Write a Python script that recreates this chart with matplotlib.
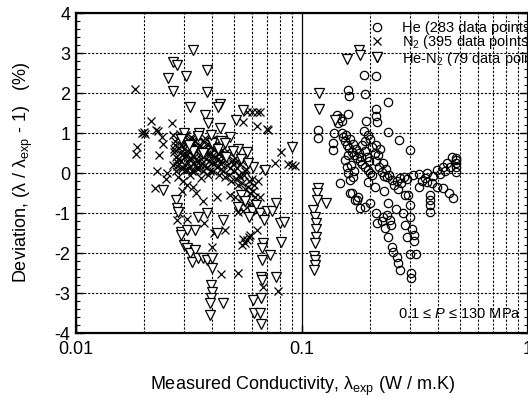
import matplotlib
matplotlib.use("Agg")
import matplotlib.pyplot as plt
from matplotlib.ticker import MultipleLocator, LogLocator, FixedFormatter, FixedLocator

plt.rcParams["font.family"] = ["Liberation Sans", "DejaVu Sans"]
plt.rcParams["mathtext.fontset"] = "custom"
plt.rcParams["mathtext.rm"] = "Liberation Sans"
plt.rcParams["mathtext.it"] = "Liberation Sans:italic"

# He (circles)
he_x = [0.188, 0.212, 0.160, 0.162, 0.190, 0.240, 0.213, 0.213, 0.214, 0.143, 0.147, 0.151,
        0.160, 0.145, 0.192, 0.118, 0.118, 0.138, 0.240, 0.270, 0.300, 0.213, 0.137, 0.137,
        0.150, 0.152, 0.155, 0.158, 0.162, 0.166, 0.170, 0.175, 0.180, 0.185, 0.190, 0.195,
        0.200, 0.205,
        0.188, 0.195, 0.190, 0.185, 0.190, 0.193, 0.197, 0.213, 0.220, 0.225, 0.230,
        0.155, 0.158, 0.160, 0.163, 0.147, 0.166, 0.177, 0.172, 0.160, 0.165, 0.170, 0.168,
        0.195, 0.237, 0.271, 0.310, 0.357, 0.395, 0.440, 0.460, 0.480, 0.480, 0.480, 0.480,
        0.480, 0.420, 0.330, 0.250, 0.290,
        0.357, 0.375, 0.395, 0.420, 0.445, 0.465,
        0.368, 0.368, 0.370, 0.370,
        0.200, 0.213, 0.228, 0.245, 0.233, 0.240, 0.250, 0.252, 0.262, 0.265, 0.271, 0.303,
        0.303, 0.286, 0.306, 0.312, 0.290, 0.312, 0.320, 0.300, 0.300, 0.163, 0.175, 0.180,
        0.190, 0.240, 0.260, 0.280, 0.265, 0.285, 0.230, 0.210, 0.300, 0.330,
        0.157, 0.163, 0.168, 0.173, 0.178, 0.183, 0.200, 0.205, 0.210, 0.218, 0.222, 0.228,
        0.235, 0.243, 0.255, 0.262, 0.275, 0.282, 0.295, 0.340, 0.350, 0.380, 0.410, 0.430,
        0.450, 0.215, 0.225, 0.238, 0.248]
he_y = [2.45, 2.43, 2.08, 1.93, 1.98, 1.78, 1.60, 1.43, 1.28, 1.45, 1.38, 1.30,
        1.47, 1.25, 1.30, 1.08, 0.88, 1.00, 1.02, 0.83, 0.58, 0.70, 0.75, 0.58,
        1.00, 0.90, 0.80, 0.70, 0.62, 0.52, 0.45, 0.38, 0.30, 0.22, 0.15, 0.08,
        0.00, -0.05,
        1.05, 0.95, 0.80, 0.70, 0.55, 0.40, 0.30, 0.30, 0.15, 0.02, -0.08,
        0.33, 0.15, 0.00, -0.18, -0.25, -0.50, -0.60, -0.68, 0.45, 0.20, 0.05, -0.10,
        -0.23, -0.10, -0.12, -0.05, 0.00, 0.08, 0.25, 0.40, 0.33, 0.38, 0.25, 0.15,
        0.03, 0.15, -0.02, -0.18, -0.15,
        -0.23, -0.25, -0.35, -0.38, -0.50, -0.63,
        -0.55, -0.68, -0.80, -0.98,
        -0.75, -1.00, -1.10, -1.18, -1.38, -1.60, -1.85, -1.98, -2.10, -2.25, -2.43, -2.50,
        -2.63, -1.30, -1.40, -1.55, -1.60, -1.70, -2.02, -2.02, -1.10, -0.50, -0.68, -0.88,
        -0.85, -0.75, -0.90, -1.00, -0.40, -0.55, -0.45, -0.35, -0.80, -0.35,
        0.95, 0.85, 0.72, 0.60, 0.50, 0.40, 0.85, 0.65, 0.50, 0.45, 0.60, 0.25,
        0.10, -0.05, -0.30, -0.20, -0.25, -0.10, -0.55, -0.20, -0.12, -0.08, -0.02, 0.05,
        0.15, -1.25, -1.20, -1.05, -1.30]

# N2 (crosses)
n2_x = [0.0182, 0.0185, 0.0187, 0.0196, 0.0199, 0.0201, 0.0215, 0.0226, 0.0230, 0.0240,
        0.0243, 0.0233, 0.0228, 0.0266, 0.0253, 0.0224, 0.0250,
        0.0270, 0.0275, 0.0272, 0.0278, 0.0270, 0.0276, 0.0282, 0.0285, 0.0290, 0.0288,
        0.0292, 0.0295, 0.0298, 0.0300, 0.0302, 0.0305, 0.0308, 0.0310, 0.0312, 0.0315,
        0.0318, 0.0320, 0.0322, 0.0325, 0.0328, 0.0330, 0.0333, 0.0336, 0.0340, 0.0343,
        0.0346, 0.0350, 0.0355, 0.0360, 0.0365, 0.0370, 0.0375, 0.0380, 0.0385, 0.0392,
        0.0398, 0.0405, 0.0412, 0.0420, 0.0428, 0.0436, 0.0445, 0.0455, 0.0465, 0.0475,
        0.0485, 0.0500, 0.0510, 0.0520, 0.0530, 0.0545, 0.0560, 0.0575, 0.0590, 0.0605,
        0.0620,
        0.0272, 0.0281, 0.0289, 0.0296, 0.0304, 0.0311, 0.0319, 0.0327, 0.0334, 0.0342,
        0.0351, 0.0359, 0.0368, 0.0377, 0.0387, 0.0396, 0.0407, 0.0418, 0.0431, 0.0444,
        0.0458, 0.0472, 0.0488, 0.0503, 0.0517, 0.0533, 0.0551, 0.0567, 0.0583, 0.0598,
        0.0274, 0.0283, 0.0293, 0.0301, 0.0309, 0.0317, 0.0326, 0.0335, 0.0344, 0.0353,
        0.0362, 0.0372, 0.0382, 0.0393, 0.0403, 0.0415, 0.0426, 0.0438, 0.0451, 0.0466,
        0.0480, 0.0495, 0.0512, 0.0528, 0.0540, 0.0557, 0.0612, 0.0640,
        0.0279, 0.0287, 0.0297, 0.0306, 0.0314, 0.0323, 0.0331, 0.0339, 0.0348, 0.0357,
        0.0367, 0.0379, 0.0390, 0.0401, 0.0413, 0.0425, 0.0440,
        0.0505, 0.0525, 0.0548, 0.0565, 0.0585, 0.0612, 0.0635, 0.0655,
        0.0571, 0.0600, 0.0630, 0.0650, 0.0550, 0.0630, 0.0700, 0.0705, 0.0810, 0.0870,
        0.0930, 0.0760, 0.0670, 0.0900,
        0.0280, 0.0285, 0.0310, 0.0340, 0.0370, 0.0410, 0.0456, 0.0400, 0.0440, 0.0520,
        0.0520, 0.0540, 0.0550, 0.0560, 0.0570, 0.0580, 0.0545, 0.0590, 0.0630, 0.0670,
        0.0780, 0.0600, 0.0330, 0.0365, 0.0420, 0.0480, 0.0310, 0.0295]
n2_y = [2.10, 0.47, 0.65, 1.00, 1.02, 0.98, 1.30, 1.07, 1.05, 0.90,
        0.72, 0.45, 0.05, 1.25, 0.00, -0.38, -0.15,
        0.95, 0.80, 0.60, 0.40, 0.20, 0.05, -0.10, 0.90, 0.70, 0.50,
        0.30, 0.10, 0.85, 0.60, 0.40, 0.20, 0.95, 0.75, 0.55, 0.35,
        0.15, -0.05, 0.90, 0.65, 0.45, 0.25, 0.05, 0.80, 0.55, 0.30,
        0.10, 0.70, 0.45, 0.25, 0.05, 0.60, 0.35, 0.15, -0.05, 0.50,
        0.25, 0.05, 0.40, 0.15, -0.05, 0.30, 0.05, -0.10, 0.20, -0.05,
        -0.20, 0.05, -0.15, -0.30, -0.10, -0.25, -0.40, -0.35, -0.50, -0.45,
        -0.60,
        0.52, 0.18, 0.97, -0.20, 0.73, 0.08, 0.62, 0.88, 0.41, 0.12,
        0.93, -0.12, 0.78, 0.52, 0.31, 0.82, 0.58, 0.68, 0.48, 0.58,
        0.32, 0.45, 0.30, 0.38, 0.12, 0.22, -0.05, 0.10, -0.20, -0.15,
        0.70, 0.35, 0.15, 0.92, 0.45, 0.80, 0.05, 0.68, 0.92, 0.20,
        0.62, 0.88, 0.72, 0.05, 0.85, 0.72, 0.35, 0.10, 0.40, 0.55,
        0.12, 0.22, 0.28, -0.05, 0.30, 0.05, -0.30, -0.20,
        0.28, 0.62, 0.48, 0.10, 0.25, 0.38, 0.75, 0.20, 0.62, 0.35,
        0.18, 0.48, 0.65, 0.42, 0.25, 0.50, 0.22,
        -0.60, -0.85, -0.95, -0.65, -0.80, -0.75, -0.95, -0.60,
        1.53, 1.52, 1.53, 1.52, 1.27, 1.18, 1.10, 1.08, 0.53, 0.22,
        0.18, 0.25, 0.07, 0.20,
        -1.18, -1.00, -1.15, -0.50, -1.25, -1.50, -1.42, -1.85, -2.52, -2.50,
        -0.98, -0.75, -1.65, -1.75, -1.68, -1.60, -1.80, -1.55, -1.43, -2.85,
        -2.95, -0.85, -0.35, -0.70, -0.60, -0.55, -0.30, -0.45]

# He-N2 (triangles)
mix_x = [0.0330, 0.0268, 0.0280, 0.0255, 0.0307, 0.0380, 0.0268, 0.0380, 0.0320, 0.0434,
         0.0426, 0.0372, 0.0550, 0.0510, 0.0384, 0.0434, 0.0900, 0.0400, 0.0440, 0.0480,
         0.0570, 0.0610, 0.0685, 0.0300, 0.0350, 0.0330, 0.0460, 0.0520,
         0.0290, 0.0315, 0.0345, 0.0365, 0.0395, 0.0425, 0.0455, 0.0495, 0.0535, 0.0575,
         0.0535, 0.0560, 0.0600, 0.0625, 0.0650, 0.0700, 0.0740,
         0.0243, 0.0277, 0.0280, 0.0282, 0.0290, 0.0292, 0.0310, 0.0336, 0.0347, 0.0380,
         0.0300, 0.0310, 0.0320, 0.0336, 0.0326, 0.0347, 0.0365, 0.0380, 0.0400, 0.0400,
         0.0395, 0.0398, 0.0395, 0.0393, 0.0390, 0.0447, 0.0447, 0.0420, 0.0520, 0.0580,
         0.0670, 0.0665, 0.0665, 0.0660, 0.0665, 0.0610, 0.0615, 0.0660, 0.0655, 0.0660,
         0.0720, 0.0770, 0.0810, 0.0770, 0.0800, 0.0830, 0.0680,
         0.158, 0.178, 0.180, 0.215, 0.119, 0.119, 0.140,
         0.118, 0.117, 0.116, 0.128, 0.112, 0.114, 0.115, 0.115, 0.115, 0.114, 0.113,
         0.114, 0.114, 0.113]
mix_y = [3.08, 2.78, 2.70, 2.37, 2.43, 2.58, 2.05, 2.03, 1.65, 1.73,
         1.65, 1.45, 1.57, 1.32, 1.25, 1.12, 0.65, 0.75, 0.80, 0.90,
         0.52, 0.15, 0.08, 1.00, 1.00, 0.55, 0.40, 0.60,
         0.85, 0.70, 0.92, 0.50, 0.95, 0.60, 0.75, 0.55, 0.35, 0.25,
         -0.55, -0.70, -0.95, -0.80, -1.00, -0.95, -0.95,
         -0.43, -0.68, -0.88, -0.97, -1.48, -1.55, -1.43, -1.42, -1.10, -1.00,
         -1.80, -1.88, -2.00, -1.93, -2.22, -2.12, -2.12, -2.17, -2.12, -2.38,
         -2.80, -2.97, -3.12, -3.25, -3.55, -3.25, -1.18, -1.50, -0.85, -1.10,
         -1.75, -1.88, -2.18, -2.60, -2.68, -3.18, -3.50, -3.12, -3.50, -3.78,
         -2.05, -2.60, -1.72, -0.75, -1.25, -1.22, -1.18,
         2.85, 3.08, 2.95, 2.90, 2.00, 1.60, 1.33,
         -0.38, -0.50, -0.68, -0.75, -0.93, -1.10, -1.25, -1.40, -1.60, -1.75, -2.07,
         -2.17, -2.30, -2.43]

labels = ["He (283 data points)", r"N$_2$ (395 data points)", r"He-N$_2$ (79 data points)"]

fig = plt.figure(figsize=(5.28, 3.98), dpi=100)
ax = fig.add_axes([76 / 528, 1 - 333 / 398, 452 / 528, 320 / 398])

ax.plot(he_x, he_y, "o", ls="none", ms=6, mfc="none", mec="k", mew=0.9, label=labels[0])
ax.plot(n2_x, n2_y, "x", ls="none", ms=6, color="k", mew=0.9, label=labels[1])
ax.plot(mix_x, mix_y, "v", ls="none", ms=6.5, mfc="white", mec="k", mew=0.9, label=labels[2])

ax.set_xscale("log")
ax.set_xlim(0.01, 1)
ax.set_ylim(-4, 4)
ax.xaxis.set_major_locator(FixedLocator([0.01, 0.1, 1]))
ax.xaxis.set_major_formatter(FixedFormatter(["0.01", "0.1", "1"]))
ax.xaxis.set_minor_locator(LogLocator(base=10, subs=range(2, 10)))
ax.yaxis.set_minor_locator(MultipleLocator(0.2))
ax.set_yticks(range(-4, 5))
ax.set_yticklabels([str(v) for v in range(-4, 5)])

ax.tick_params(which="both", direction="in", right=True, top=False, labelsize=13, pad=4)
ax.tick_params(which="major", length=6, width=1)
ax.tick_params(which="minor", length=3, width=0.8)
ax.tick_params(axis="x", which="minor", length=0)
ax.tick_params(axis="x", which="major", pad=6)
for s in ax.spines.values():
    s.set_linewidth(1.6)

ax.yaxis.grid(True, which="major", color="k", ls=(0, (2, 1.5)), lw=0.8)
ax.xaxis.grid(True, which="minor", color="k", ls=(0, (2, 1.5)), lw=0.8)
ax.xaxis.grid(True, which="major", color="k", ls="-", lw=0.9)
ax.set_axisbelow(True)

ax.set_xlabel("Measured Conductivity, λ$_{\\rm exp}$ (W / m.K)", fontsize=13, labelpad=12)
ax.set_ylabel("Deviation, (λ / λ$_{\\rm exp}$ - 1)   (%)", fontsize=13, labelpad=14)

ax.legend(loc="upper left", bbox_to_anchor=(0.650, 0.975), frameon=False, fontsize=10.5,
          handlelength=1.0, handletextpad=1.2, labelspacing=-0.12, borderaxespad=0,
          borderpad=0)
ax.text(0.985, 0.06, "0.1 ≤ $P$ ≤ 130 MPa", transform=ax.transAxes,
        fontsize=10.5, ha="right", va="center")

fig.savefig("out.png", dpi=100)
